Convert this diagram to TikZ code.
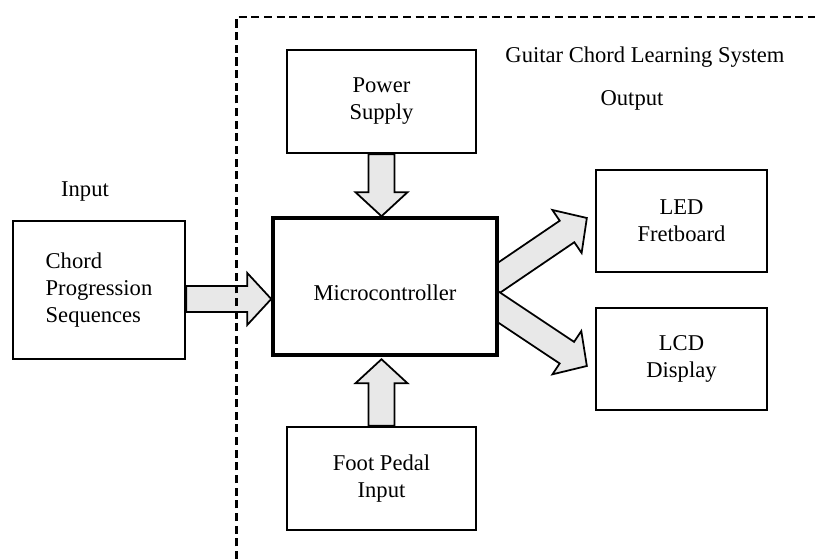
\documentclass[tikz,border=0pt]{standalone}
\usepackage{fontspec}
\setmainfont{Liberation Serif}
\usepackage{xcolor}
\usetikzlibrary{calc,backgrounds}

\definecolor{arrowfill}{HTML}{E8E8E8}

\newcommand{\blockarrow}[2]{%
        \coordinate (hb) at ($(#2)!0.48cm!(#1)$);
        \draw[fatarrow] ($(#1)!0.26cm!-90:(#2)$) -- ($(hb)!0.26cm!90:(#1)$) -- ($(hb)!0.52cm!90:(#1)$) -- (#2)
            -- ($(hb)!0.52cm!-90:(#1)$) -- ($(hb)!0.26cm!-90:(#1)$) -- ($(#1)!0.26cm!90:(#2)$) -- cycle;
}

\begin{document}
\begin{tikzpicture}[
        box/.style={draw, line width=1.3pt, fill=white, inner sep=0pt, align=center, font=\fontsize{12.85}{15.4}\selectfont},
        lbl/.style={inner sep=0pt, font=\fontsize{12.85}{15.4}\selectfont},
        fatarrow/.style={draw, line width=1pt, fill=arrowfill, line join=miter},
        frame/.style={line width=1.3pt, dash pattern=on 4.6pt off 2.6pt}
    ]
        \useasboundingbox (0,0) rectangle (16.3,11.18);

        \node[box, minimum width=3.78cm, minimum height=2.06cm] (power) at (7.63,9.15) {Power\\Supply};
        \node[box, line width=2pt, minimum width=4.48cm, minimum height=2.74cm, text height=16pt, text depth=0pt] (mcu) at (7.70,5.45) {Microcontroller};
        \node[box, minimum width=3.78cm, minimum height=2.06cm] (foot) at (7.63,1.61) {Foot Pedal\\Input};
        \node[box, align=left, minimum width=3.44cm, minimum height=2.76cm] (chord) at (1.98,5.38) {Chord\\Progression\\Sequences};
        \node[box, minimum width=3.42cm, minimum height=2.04cm] (led) at (13.63,6.76) {LED\\Fretboard};
        \node[box, minimum width=3.42cm, minimum height=2.04cm] (lcd) at (13.63,4.00) {LCD\\Display};

        \node[lbl] (inputlbl) at (1.70,7.34) {Input};
        \node[lbl] (outputlbl) at (12.64,9.18) {Output};
        \node[lbl] (systemlbl) at (12.90,10.04) {Guitar Chord Learning System};

        \begin{scope}[on background layer]
            \coordinate (inA) at ($(chord.east)+(0,-0.18)$);
            \coordinate (inB) at (mcu.west |- inA);
            \blockarrow{inA}{inB}
            \coordinate (pwrB) at (mcu.north -| power.south);
            \blockarrow{power.south}{pwrB}
            \coordinate (footB) at ($(mcu.south -| foot.north)+(0,-0.05)$);
            \blockarrow{foot.north}{footB}
            \coordinate (ledA) at ($(mcu.east)+(-0.40,-0.10)$);
            \coordinate (ledB) at ($(led.west)+(-0.16,0.06)$);
            \blockarrow{ledA}{ledB}
            \coordinate (lcdA) at ($(mcu.east)+(-0.40,-0.15)$);
            \coordinate (lcdB) at ($(lcd.west)+(-0.16,-0.14)$);
            \blockarrow{lcdA}{lcdB}
        \end{scope}

        \draw[frame] (4.73,0) -- (4.73,10.84) -- (16.3,10.84);
    \end{tikzpicture}
\end{document}
